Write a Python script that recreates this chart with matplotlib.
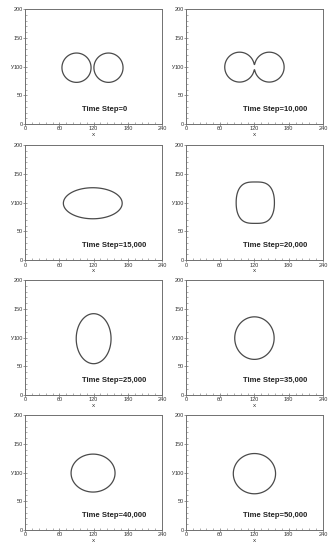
import numpy as np
import matplotlib
matplotlib.use('Agg')
import matplotlib.pyplot as plt
from matplotlib.ticker import MultipleLocator

plt.rcParams['font.family'] = ['Liberation Sans', 'DejaVu Sans']

# time step labels, one per panel (row by row)
steps = ['0', '10,000', '15,000', '20,000', '25,000', '35,000', '40,000', '50,000']

# first two panels: two droplets (centres, radius, neck blend)
pair_x1 = [90, 94]
pair_x2 = [146, 146]
pair_y = [98, 99]
pair_r = [25.5, 26]
pair_blend = [0.0, 1.5]

# remaining panels: one droplet as a superellipse
drop_cx = [118.5, 121.5, 120, 120, 119, 120]
drop_cy = [99, 100, 98, 99, 99, 98]
drop_a = [51.5, 33.5, 30.5, 34.5, 38.5, 37]
drop_b = [27, 36, 43.5, 37, 33, 35]
drop_px = [2.0, 3.2, 2, 2, 2, 2]
drop_py = [2.0, 2.2, 2, 2, 2, 2]

x_ticks = [0, 60, 120, 180, 240]
y_ticks = [0, 50, 100, 150, 200]

xg = np.linspace(0, 240, 721)
yg = np.linspace(0, 200, 601)
X, Y = np.meshgrid(xg, yg)


def smin(a, b, k):
    if k <= 0:
        return np.minimum(a, b)
    h = np.clip(k - np.abs(a - b), 0, None) / k
    return np.minimum(a, b) - h * h * k / 4


def field(i):
    if i < len(pair_x1):
        d1 = np.hypot(X - pair_x1[i], Y - pair_y[i])
        d2 = np.hypot(X - pair_x2[i], Y - pair_y[i])
        return smin(d1, d2, pair_blend[i]) - pair_r[i]
    j = i - len(pair_x1)
    return (np.abs(X - drop_cx[j]) / drop_a[j]) ** drop_px[j] + \
        (np.abs(Y - drop_cy[j]) / drop_b[j]) ** drop_py[j] - 1


fig = plt.figure(figsize=(3.35, 5.5), dpi=100)
lefts = [0.075, 0.555]
bottoms = [0.7745, 0.527, 0.2818, 0.0364]
w, h = 0.409, 0.209
frame_col = '#707070'
txt_col = '#333333'

for i, s in enumerate(steps):
    r, c = divmod(i, 2)
    ax = fig.add_axes([lefts[c], bottoms[r], w, h])
    ax.contour(X, Y, field(i), levels=[0], colors='#4a4a4a', linewidths=0.9)
    ax.text(100, 25, f'Time Step={s}', fontsize=5.5, fontweight='bold',
            color='#222222', va='center', ha='left')
    ax.set_xlim(0, 240)
    ax.set_ylim(0, 200)
    ax.set_xticks(x_ticks)
    ax.set_yticks(y_ticks)
    ax.xaxis.set_minor_locator(MultipleLocator(12))
    ax.yaxis.set_minor_locator(MultipleLocator(10))
    ax.tick_params(which='major', direction='inout', length=2.5, width=0.5,
                   labelsize=4, colors=frame_col, labelcolor=txt_col, pad=0.5)
    ax.tick_params(which='minor', direction='in', length=1.2, width=0.4,
                   colors=frame_col)
    ax.set_xlabel('x', fontsize=4.5, labelpad=0.5, color=txt_col)
    ax.set_ylabel('y', fontsize=4.5, labelpad=0.5, rotation=0,
                  va='center', color=txt_col)
    for sp in ax.spines.values():
        sp.set_color(frame_col)
        sp.set_linewidth(0.7)

fig.savefig('out.png', dpi=100)
